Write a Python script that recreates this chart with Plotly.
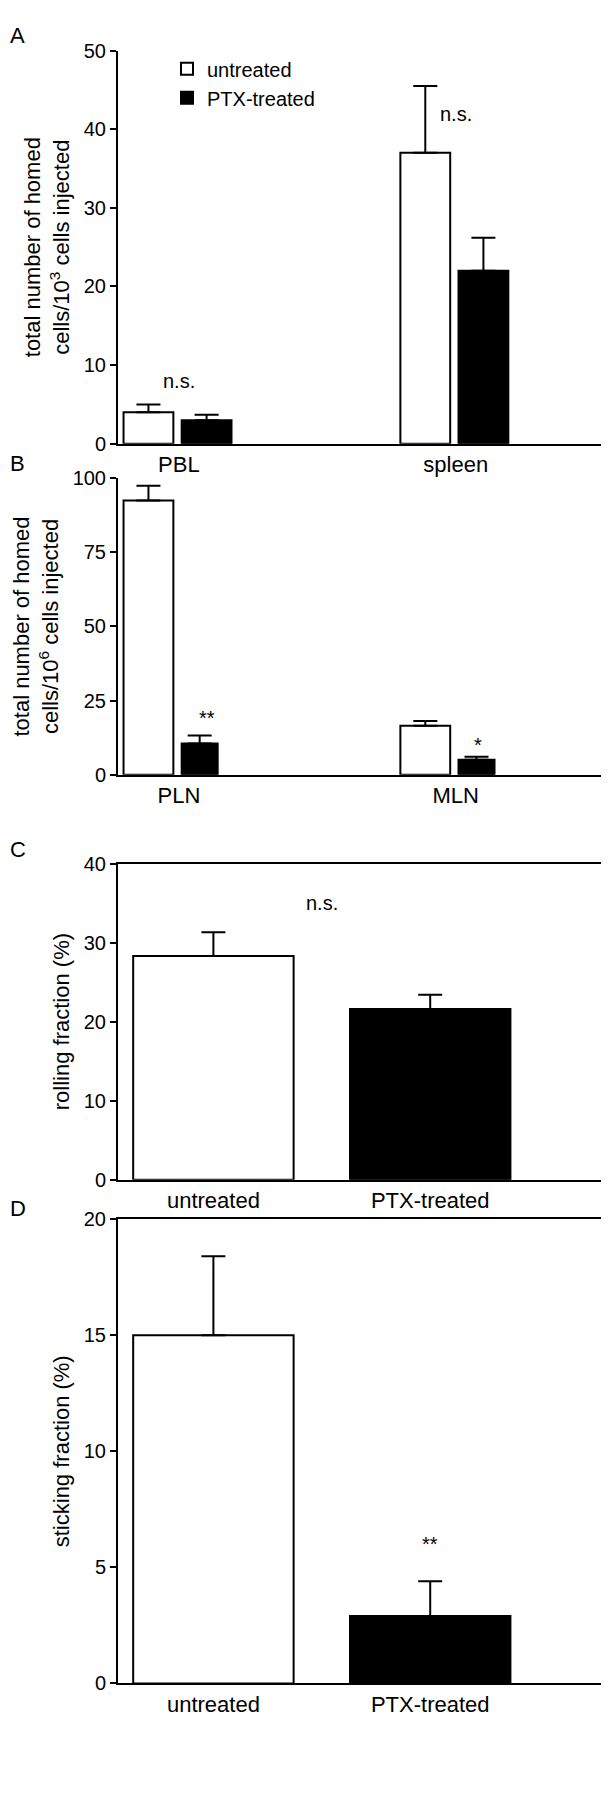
import plotly.graph_objects as go

# panel A: homing per 10^3 cells
a_cats = ["PBL", "spleen"]
a_untreated = [4.0, 37.0]
a_untreated_err = [1.0, 8.5]
a_ptx = [3.0, 22.0]
a_ptx_err = [0.7, 4.2]

# panel B: homing per 10^6 cells
b_cats = ["PLN", "MLN"]
b_untreated = [92.5, 16.5]
b_untreated_err = [5.0, 1.6]
b_ptx = [10.5, 5.0]
b_ptx_err = [2.7, 1.0]

# panels C and D
cd_cats = ["untreated", "PTX-treated"]
c_vals = [28.3, 21.6]
c_err = [3.0, 1.8]
d_vals = [15.0, 2.9]
d_err = [3.4, 1.5]

FONT = "Liberation Sans, Arial, sans-serif"
H = 1800

def dom(top, bottom):
    return [1 - bottom / H, 1 - top / H]

fig = go.Figure()

def bars(xs, ys, errs, color, axis, offset, width, name=None, show=False):
    fig.add_trace(go.Bar(
        x=xs, y=ys, xaxis="x" + axis, yaxis="y" + axis,
        offset=offset, width=width, name=name, showlegend=show,
        marker=dict(color=color, line=dict(color="black", width=2)),
        error_y=dict(type="data", array=errs, arrayminus=[0] * len(errs),
                     symmetric=False, color="black", thickness=2, width=12),
    ))

pos2 = [0, 1]
bars(pos2, a_untreated, a_untreated_err, "white", "", -0.2, 0.18, "untreated", True)
bars(pos2, a_ptx, a_ptx_err, "black", "", 0.01, 0.18, "PTX-treated", True)
bars(pos2, b_untreated, b_untreated_err, "white", "2", -0.2, 0.18)
bars(pos2, b_ptx, b_ptx_err, "black", "2", 0.01, 0.13)
for ax, vals, errs in [("3", c_vals, c_err), ("4", d_vals, d_err)]:
    fig.add_trace(go.Bar(x=pos2, y=vals, xaxis="x" + ax, yaxis="y" + ax, width=0.74, showlegend=False,
                         marker=dict(color=["white", "black"], line=dict(color="black", width=2)),
                         error_y=dict(type="data", array=errs, arrayminus=[0, 0], symmetric=False,
                                      color="black", thickness=2, width=12)))

tick = dict(family=FONT, size=20, color="black")
lab = dict(family=FONT, size=22, color="black")

def xax(anchor, names, rng, mirror):
    return dict(anchor=anchor, domain=[0, 1], range=rng, tickvals=[0, 1], ticktext=names,
                tickfont=lab, showline=True, linecolor="black", linewidth=2, mirror=mirror,
                ticks="", showgrid=False, zeroline=False, fixedrange=True)

def yax(anchor, d, rng, dt, title, mirror):
    return dict(anchor=anchor, domain=d, range=rng, dtick=dt, tickfont=tick,
                title=dict(text=title, font=lab, standoff=8),
                showline=True, linecolor="black", linewidth=2, mirror=mirror,
                ticks="outside", ticklen=6, tickwidth=2, tickcolor="black",
                showgrid=False, zeroline=False)

fig.update_layout(
    width=609, height=H, margin=dict(l=110, r=9, t=0, b=0),
    plot_bgcolor="white", paper_bgcolor="white", barmode="overlay",
    font=dict(family=FONT, color="black"),
    legend=dict(x=0.1, y=0.983, xanchor="left", yanchor="top", font=dict(family=FONT, size=20),
                bgcolor="rgba(0,0,0,0)", tracegroupgap=0),
    xaxis=xax("y", a_cats, [-0.22, 1.55], False),
    yaxis=yax("x", dom(32, 430), [0, 50], 10,
              "total number of homed<br>cells/10<sup>3</sup> cells injected", False),
    xaxis2=xax("y2", b_cats, [-0.22, 1.55], False),
    yaxis2=yax("x2", dom(465, 765), [0, 100], 25,
               "total number of homed<br>cells/10<sup>6</sup> cells injected", False),
    xaxis3=xax("y3", cd_cats, [-0.44, 1.82], True),
    yaxis3=yax("x3", dom(855, 1175), [0, 40], 10, "rolling fraction (%)", True),
    xaxis4=xax("y4", cd_cats, [-0.44, 1.82], True),
    yaxis4=yax("x4", dom(1215, 1685), [0, 20], 5, "sticking fraction (%)", True),
)

ann = [
    ("x", "y", 0, 8, "n.s."), ("x", "y", 1, 42, "n.s."),
    ("x2", "y2", 0.1, 19, "**"), ("x2", "y2", 1.08, 10, "*"),
    ("x3", "y3", 0.5, 35, "n.s."), ("x4", "y4", 1, 6, "**"),
]
for xr, yr, xv, yv, t in ann:
    fig.add_annotation(xref=xr, yref=yr, x=xv, y=yv, text=t, showarrow=False,
                       font=dict(family=FONT, size=20))
for t, top in [("A", 2), ("B", 435), ("C", 826), ("D", 1190)]:
    fig.add_annotation(xref="paper", yref="paper", x=-0.225, y=1 - top / H, xanchor="left",
                       yanchor="top", text=t, showarrow=False, font=dict(family=FONT, size=22))

fig.write_html("out.html")
